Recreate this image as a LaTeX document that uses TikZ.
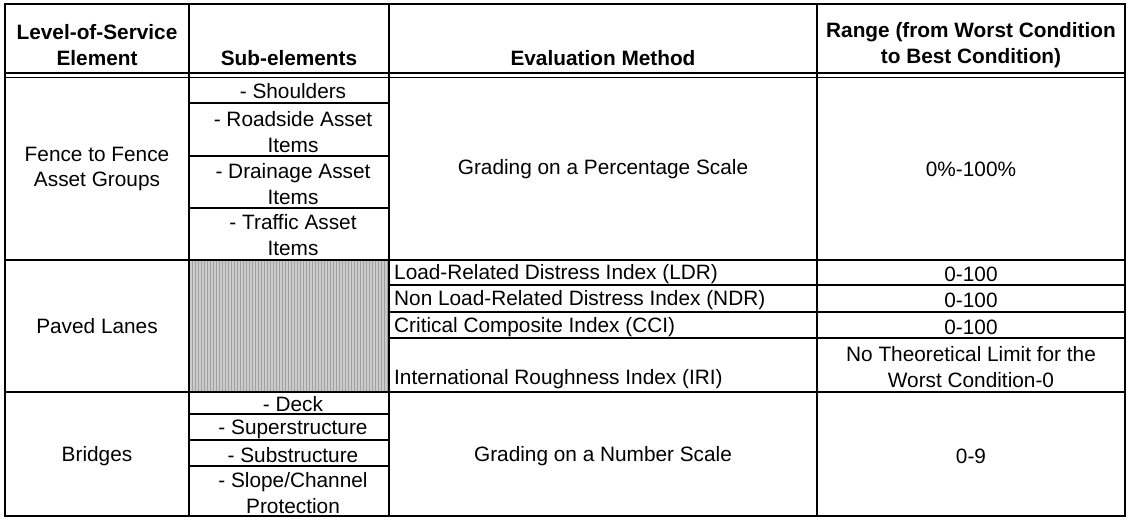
\documentclass[tikz,border=0pt]{standalone}
\usepackage{fontspec}
\setmainfont{Liberation Sans}
\usetikzlibrary{patterns}
\begin{document}
\begin{tikzpicture}[x=1pt,y=-1pt,
  cell/.style={inner sep=0pt,align=center,font=\fontsize{20.8}{25.5}\selectfont},
  head/.style={cell,font=\fontsize{20.8}{25.5}\selectfont\bfseries},
  lcell/.style={cell,anchor=west,align=left},
  major/.style={line width=2.7pt},
  minor/.style={line width=2.1pt},
  thin/.style={line width=1.2pt}]
\useasboundingbox (0,0) rectangle (1128,518);

% shaded empty cell of the paved-lanes row
\fill[gray!40] (189,260) rectangle (389,392);
\fill[pattern=vertical lines,pattern color=gray!75] (189,260) rectangle (389,392);

% column rules
\draw[major] (189,4) -- (189,516);
\draw[major] (389,4) -- (389,516);
\draw[major] (817,4) -- (817,516);

% double rule under the header
\draw[thin] (5,73) -- (1125,73);
\draw[thin] (5,77.5) -- (1125,77.5);

% group separators
\draw[major] (5,260) -- (1125,260);
\draw[major] (5,392) -- (1125,392);

% sub-element rules
\foreach \y in {103,156,208,414,440,466}
  \draw[minor] (189,\y) -- (389,\y);
% paved-lanes method rules
\foreach \y in {285,312,338}
  \draw[minor] (389,\y) -- (1125,\y);

% outer frame
\draw[major] (5,4) rectangle (1125,516);

% header
\node[head] (h1) at (97,45) {Level-of-Service\\Element};
\node[head] (h2) at (289,58) {Sub-elements};
\node[head] (h3) at (603,58) {Evaluation Method};
\node[head] (h4) at (971,45) {Range (from Worst Condition\\to Best Condition)};

% fence to fence
\node[cell] (r1) at (97,169) {Fence to Fence\\Asset Groups};
\node[cell] (s1) at (293,91) {- Shoulders};
\node[cell] (s2) at (293,132) {- Roadside Asset\\Items};
\node[cell] (s3) at (293,184) {- Drainage Asset\\Items};
\node[cell] (s4) at (293,235) {- Traffic Asset\\Items};
\node[cell] (e1) at (603,169) {Grading on a Percentage Scale};
\node[cell] (g1) at (971,169) {0\%-100\%};

% paved lanes
\node[cell] (r2) at (97,326) {Paved Lanes};
\node[lcell] (e2) at (394,274) {Load-Related Distress Index (LDR)};
\node[lcell] (e3) at (394,300) {Non Load-Related Distress Index (NDR)};
\node[lcell] (e4) at (394,327) {Critical Composite Index (CCI)};
\node[lcell] (e5) at (394,379) {International Roughness Index (IRI)};
\node[cell] (g2) at (971,274) {0-100};
\node[cell] (g3) at (971,300) {0-100};
\node[cell] (g4) at (971,327) {0-100};
\node[cell] (g5) at (971,367) {No Theoretical Limit for the\\Worst Condition-0};

% bridges
\node[cell] (r3) at (97,456) {Bridges};
\node[cell] (s5) at (293,404) {- Deck};
\node[cell] (s6) at (293,429) {- Superstructure};
\node[cell] (s7) at (293,455) {- Substructure};
\node[cell] (s8) at (293,493) {- Slope/Channel\\Protection};
\node[cell] (e6) at (603,456) {Grading on a Number Scale};
\node[cell] (g6) at (971,456) {0-9};
\end{tikzpicture}
\end{document}
